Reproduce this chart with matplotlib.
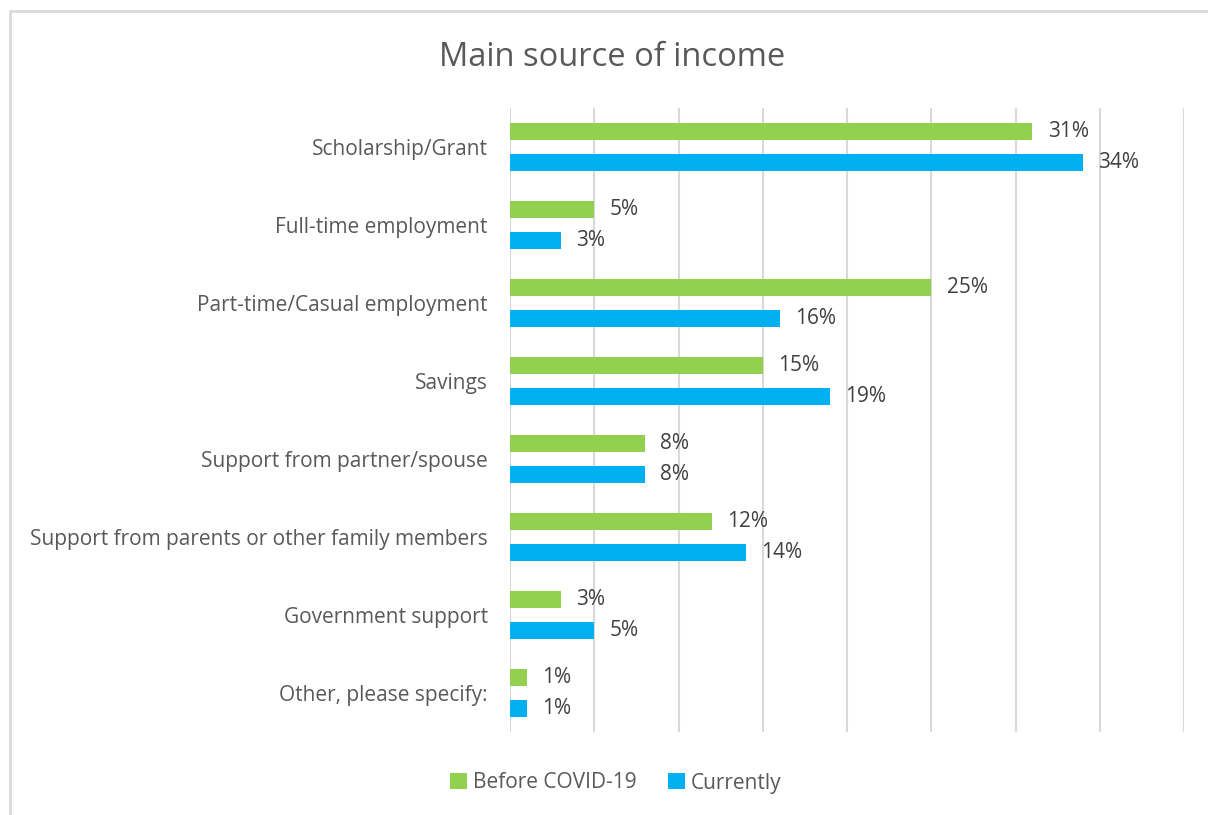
import numpy as np
import matplotlib.pyplot as plt
from matplotlib.patches import Rectangle

plt.rcParams['font.family'] = ['Open Sans', 'DejaVu Sans']

### data
categories = ['Scholarship/Grant', 'Full-time employment', 'Part-time/Casual employment',
              'Savings', 'Support from partner/spouse',
              'Support from parents or other family members',
              'Government support', 'Other, please specify:']
before = [31, 5, 25, 15, 8, 12, 3, 1]
currently = [34, 3, 16, 19, 8, 14, 5, 1]
series_names = ['Before COVID-19', 'Currently']

green = '#92d050'
blue = '#00b0f0'
text_col = '#595959'
grid_col = '#d9d9d9'

### figure
fig = plt.figure(figsize=(12.08, 8.15), dpi=100)
ax = fig.add_axes([510/1208, 1 - 732/815, 674/1208, 624/815])

# outer chart border
fig.patches.append(Rectangle((10/1208, -0.05), 1.1, 1 - 11/815 + 0.05,
                             transform=fig.transFigure, fill=False,
                             edgecolor=grid_col, linewidth=2))

y = np.arange(len(categories))
h = 0.22
off = 0.2
b1 = ax.barh(y - off, before, height=h, color=green, label=series_names[0])
b2 = ax.barh(y + off, currently, height=h, color=blue, label=series_names[1])

for bars, vals in ((b1, before), (b2, currently)):
    for bar, v in zip(bars, vals):
        ax.annotate(f'{v}%', (bar.get_width(), bar.get_y() + bar.get_height()/2),
                    xytext=(11, 0), textcoords='offset points', va='center',
                    ha='left', fontsize=15, color='#404040')

ax.set_xlim(0, 40)
ax.set_ylim(len(categories) - 0.5, -0.5)
ax.set_xticks(np.arange(0, 41, 5))
ax.set_xticklabels([])
ax.tick_params(axis='x', length=0)
ax.tick_params(axis='y', length=0, pad=16, labelsize=15, labelcolor=text_col)
ax.set_yticks(y)
ax.set_yticklabels(categories)
ax.grid(axis='x', color=grid_col, linewidth=1.5)
ax.set_axisbelow(True)
for s in ax.spines.values():
    s.set_visible(False)

fig.text(612/1208, 1 - 57/815, 'Main source of income', ha='center', va='center',
         fontsize=23.5, color=text_col)

fig.legend(handles=[b1, b2], labels=series_names, loc='center',
           bbox_to_anchor=(616/1208, 1 - 783/815), ncol=2, frameon=False,
           fontsize=15, labelcolor=text_col, handlelength=0.8, handleheight=0.8,
           handletextpad=0.3, columnspacing=1.5)

fig.savefig('out.png', dpi=100)
